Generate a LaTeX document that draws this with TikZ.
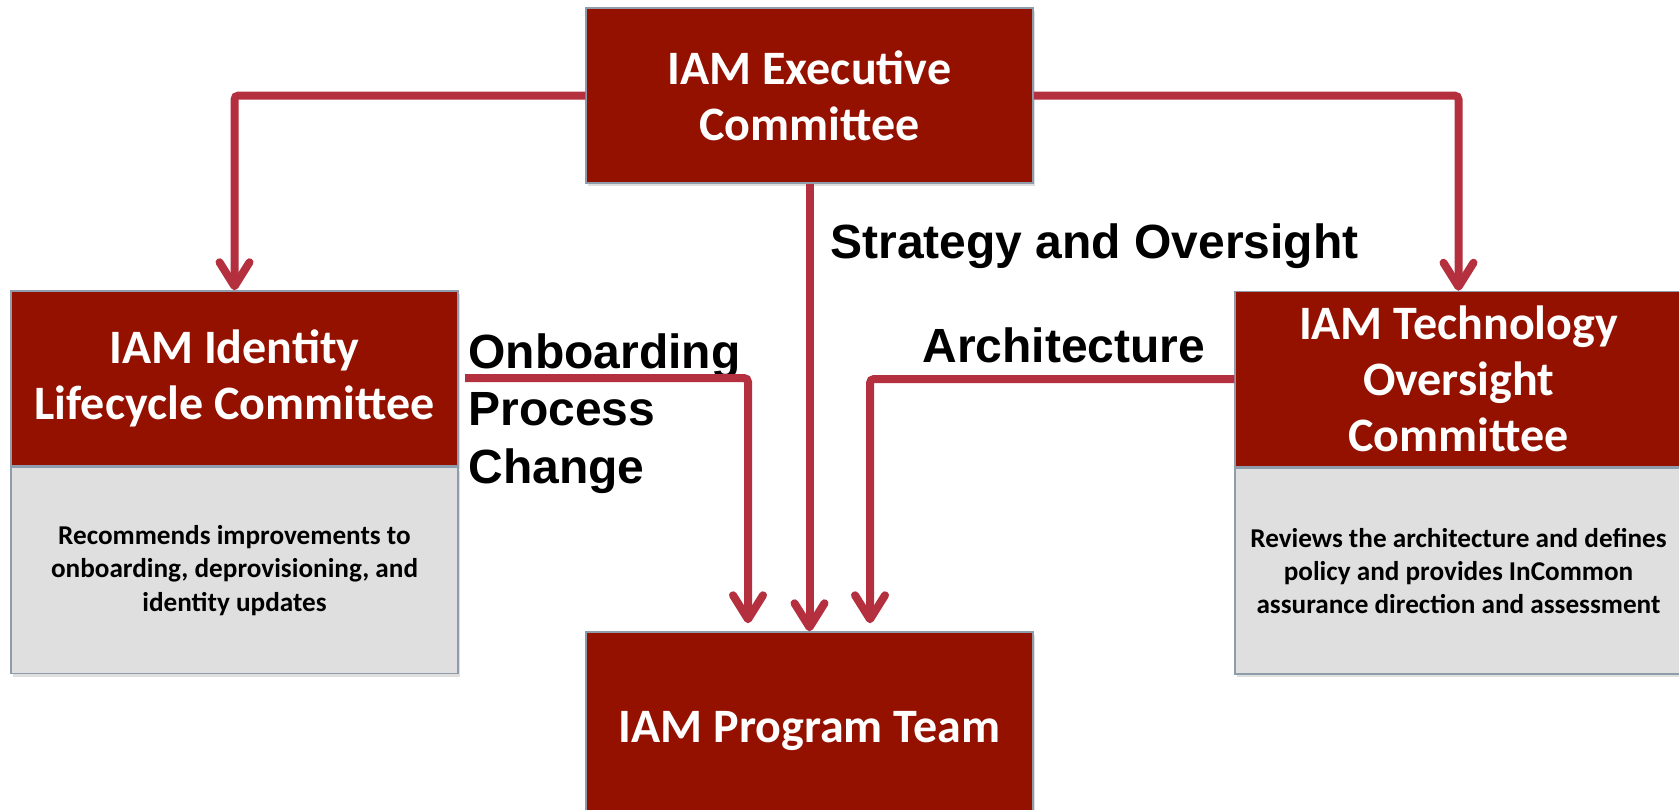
\documentclass[tikz,border=0pt]{standalone}
\usepackage{fontspec}
\setmainfont{Carlito}
\newfontfamily\labelfont{Liberation Sans}
\usetikzlibrary{positioning,calc,arrows.meta,shadows}
\definecolor{boxred}{HTML}{941100}
\definecolor{linkred}{HTML}{B5303F}
\definecolor{boxgray}{HTML}{DFDFDF}
\definecolor{boxline}{HTML}{8E9CAB}

\begin{document}
\begin{tikzpicture}[x=0.5pt,y=-0.5pt,
		redbox/.style={draw=boxline, line width=0.75pt, fill=boxred, text=white, font=\bfseries\fontsize{24}{28}\selectfont, align=center, minimum width=223.5pt, minimum height=87.5pt, inner sep=0pt, drop shadow={shadow xshift=1pt, shadow yshift=-1.5pt, opacity=0.25}},
		graybox/.style={draw=boxline, line width=0.75pt, fill=boxgray, font=\bfseries\fontsize{13.6}{16.6}\selectfont, align=center, minimum width=223.5pt, minimum height=103pt, inner sep=0pt, drop shadow={shadow xshift=1pt, shadow yshift=-1.5pt, opacity=0.25}},
		link/.style={draw=linkred, line width=4pt, rounded corners=2pt, -{Straight Barb[length=12pt, width=15pt, round]}},
		lbl/.style={font=\labelfont\bfseries\fontsize{24}{28.75}\selectfont, inner sep=0pt}]
	\useasboundingbox (0,0) rectangle (1679,809);
	% committees
	\node[redbox] (exec) at (809.5,95.5) {IAM Executive\\Committee};
	\node[redbox] (idtitle) at (234.5,378.5) {IAM Identity\\Lifecycle Committee};
	\node[graybox, below=0pt of idtitle] (iddesc) {Recommends improvements to\\onboarding, deprovisioning, and\\identity updates};
	\node[redbox] (techtitle) at (1458.5,379) {IAM Technology\\Oversight\\Committee};
	\node[graybox, below=0pt of techtitle] (techdesc) {Reviews the architecture and defines\\policy and provides InCommon\\assurance direction and assessment};
	\node[redbox, minimum height=98.5pt] (team) at (809.5,730.5) {IAM Program Team};
	% labels
	\node[lbl, anchor=base west] (strat) at (830,258) {Strategy and Oversight};
	\node[lbl, anchor=base west] (arch) at (922,362) {Architecture};
	\node[lbl, anchor=north west, align=left] (onb) at (468,333) {Onboarding\\Process\\Change};
	\coordinate (obstart) at (465,378);
	% connectors
	\draw[link] (exec.west) -| (idtitle.north);
	\draw[link] (exec.east) -| (techtitle.north);
	\draw[link] (exec.south) -- (team.north);
	\draw[link, shorten >=4pt] (obstart) -| ($(team.north)+(-61.5,0)$);
	\draw[link, shorten >=4pt] (techtitle.west) -| ($(team.north)+(60.5,0)$);
\end{tikzpicture}
\end{document}
